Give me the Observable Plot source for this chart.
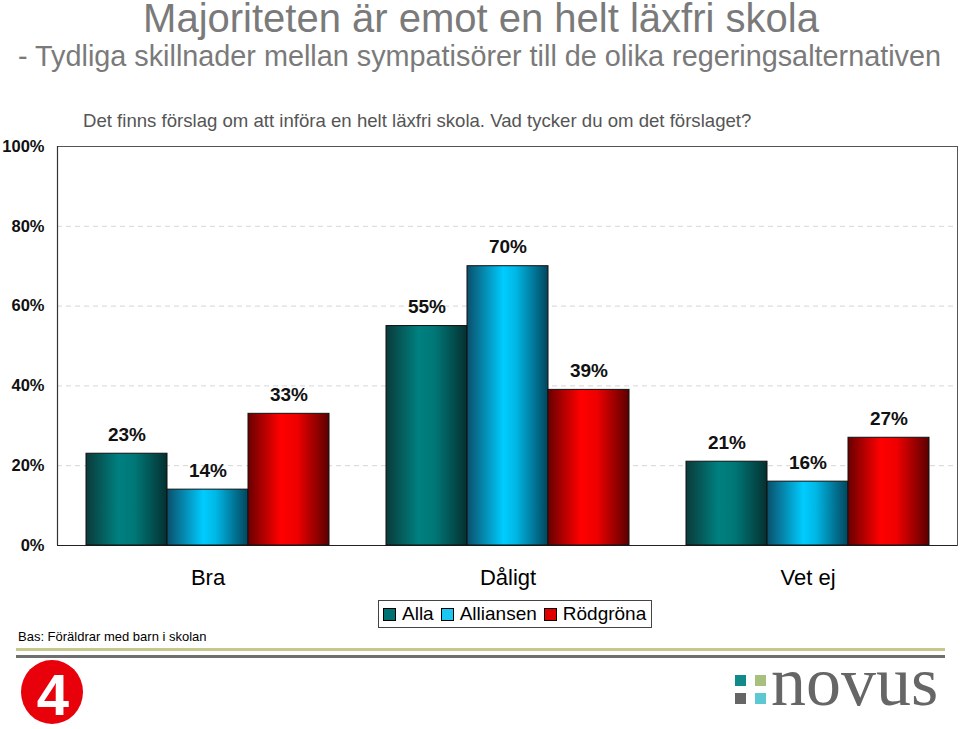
<!DOCTYPE html>
<html><head><meta charset="utf-8">
<script src="https://cdn.jsdelivr.net/npm/d3@7"></script>
<script src="https://cdn.jsdelivr.net/npm/@observablehq/plot@0.6"></script>
<style>
body{margin:0;background:#fff;}
#page{position:relative;width:960px;height:729px;overflow:hidden;font-family:"Liberation Sans",Arial,Helvetica,sans-serif;color:#000;}
.abs{position:absolute;white-space:nowrap;}
#title{left:0;width:962px;text-align:center;top:-4px;font-size:40px;line-height:1.1;color:#7a7a7a;}
#subtitle{left:18px;top:42px;font-size:28.8px;line-height:1;color:#7a7a7a;}
#question{left:83px;top:112px;font-size:18.6px;line-height:1;color:#555;}
#chartA,#chartB{position:absolute;left:0;top:130px;}
#legend{position:absolute;left:378px;top:600px;height:26px;border:1px solid #444;display:flex;align-items:center;padding:0 5px 0 4px;font-size:19px;}
#legend .it{display:flex;align-items:center;margin-right:7px;}
#legend .it:last-child{margin-right:0;}
#legend .sw{width:11px;height:11px;border:1px solid #000;margin-right:6px;}
#bas{left:18px;top:630px;font-size:13px;line-height:1;}
#line1{position:absolute;left:16px;top:648px;width:929px;height:3px;background:#c6c78e;}
#line2{position:absolute;left:16px;top:655px;width:929px;height:3px;background:#6f6f6f;}
#logos{position:absolute;left:0;top:629px;}
</style></head><body>
<svg width="0" height="0" style="position:absolute">
<defs>
<linearGradient id="gAlla" x1="0" x2="1" y1="0" y2="0">
<stop offset="0" stop-color="#0b3a3a"/><stop offset="0.4" stop-color="#008080"/><stop offset="0.6" stop-color="#007777"/><stop offset="1" stop-color="#053030"/>
</linearGradient>
<linearGradient id="gAlliansen" x1="0" x2="1" y1="0" y2="0">
<stop offset="0" stop-color="#0a4f6a"/><stop offset="0.45" stop-color="#00ccff"/><stop offset="0.6" stop-color="#00b8e6"/><stop offset="1" stop-color="#03455c"/>
</linearGradient>
<linearGradient id="gRod" x1="0" x2="1" y1="0" y2="0">
<stop offset="0" stop-color="#6a0000"/><stop offset="0.4" stop-color="#ff0000"/><stop offset="0.6" stop-color="#f00000"/><stop offset="1" stop-color="#5a0000"/>
</linearGradient>
</defs></svg>
<div id="page">
<div id="title" class="abs">Majoriteten är emot en helt läxfri skola</div>
<div id="subtitle" class="abs">- Tydliga skillnader mellan sympatisörer till de olika regeringsalternativen</div>
<div id="question" class="abs">Det finns förslag om att införa en helt läxfri skola. Vad tycker du om det förslaget?</div>
<div id="chartA"></div>
<div id="chartB"></div>
<div id="legend"></div>
<div id="bas" class="abs">Bas: Föräldrar med barn i skolan</div>
<div id="line1"></div><div id="line2"></div>
<svg id="logos" width="960" height="100">
<ellipse cx="52" cy="63" rx="31" ry="32" fill="#e8000b"/>
<text x="53" y="86" text-anchor="middle" font-family="Liberation Sans, Arial" font-weight="bold" font-size="58" fill="#fff">4</text>
<rect x="735" y="46" width="11" height="11" fill="#138a8a"/>
<rect x="755" y="46" width="11" height="11" fill="#a8c07e"/>
<rect x="735" y="64" width="11" height="11" fill="#666"/>
<rect x="755" y="64" width="11" height="11" fill="#5cc8d2"/>
<text x="771" y="76" font-family="Liberation Serif, DejaVu Serif, serif" font-size="70" fill="#666">novus</text>
</svg>
</div>
<script>
const categories = ["Bra", "Dåligt", "Vet ej"];
const seriesNames = ["Alla", "Alliansen", "Rödgröna"];
const alla = [23, 55, 21];
const alliansen = [14, 70, 16];
const rodgrona = [33, 39, 27];
const yTicks = [0, 20, 40, 60, 80, 100];

const gradients = ["url(#gAlla)", "url(#gAlliansen)", "url(#gRod)"];
const legendColors = ["#007272", "#1cc6f2", "#e00000"];
const seriesValues = [alla, alliansen, rodgrona];

const rows = [];
categories.forEach((c, i) => seriesNames.forEach((s, j) => rows.push({category: c, series: s, value: seriesValues[j][i]})));

const W = 960, H = 470, mt = 16, mb = 55, ml = 57, mr = 3;
const font = "Liberation Sans, Arial, sans-serif";

const chartA = Plot.plot({
  width: W, height: H, marginTop: mt, marginBottom: mb, marginLeft: ml, marginRight: mr,
  style: {fontFamily: font, background: "transparent", color: "#000"},
  x: {domain: [0, 1], axis: null},
  y: {domain: [0, 100], axis: null},
  marks: [
    Plot.ruleY(yTicks.filter(t => t > 0 && t < 100), {stroke: "#d6d6d6", strokeDasharray: "5,4"}),
    Plot.frame({stroke: "#555"}),
    Plot.ruleY([0], {stroke: "#222", strokeWidth: 1.2}),
    Plot.ruleX([0], {stroke: "#333", strokeWidth: 1.2}),
    Plot.axisY({ticks: yTicks, tickFormat: d => d + "%", tickSize: 0, tickPadding: 13, fontSize: 16.5, fontWeight: "bold", fill: "#111"})
  ]
});
document.getElementById("chartA").appendChild(chartA);

const chartB = Plot.plot({
  width: W, height: H, marginTop: mt, marginBottom: mb, marginLeft: ml, marginRight: mr,
  style: {fontFamily: font, background: "transparent", color: "#000", overflow: "visible"},
  fx: {domain: categories, paddingInner: 0.19, paddingOuter: 0.095, label: null, axis: null},
  x: {domain: seriesNames, padding: 0, axis: null},
  y: {domain: [0, 100], axis: null},
  color: {domain: seriesNames, range: gradients},
  marks: [
    Plot.barY(rows, {fx: "category", x: "series", y: "value", fill: "series", stroke: "#111", strokeWidth: 1}),
    Plot.text(rows, {fx: "category", x: "series", y: "value", text: d => d.value + "%", dy: -19, fontSize: 19, fontWeight: "bold", fill: "#111"}),
    Plot.axisFx({anchor: "bottom", tickSize: 0, tickPadding: 24, fontSize: 22, label: null, fill: "#000"})
  ]
});
document.getElementById("chartB").appendChild(chartB);

const legend = document.getElementById("legend");
seriesNames.forEach((s, i) => {
  const it = document.createElement("div");
  it.className = "it";
  const sw = document.createElement("div");
  sw.className = "sw";
  sw.style.background = legendColors[i];
  const t = document.createElement("span");
  t.textContent = s;
  it.appendChild(sw); it.appendChild(t);
  legend.appendChild(it);
});
</script>
</body></html>
